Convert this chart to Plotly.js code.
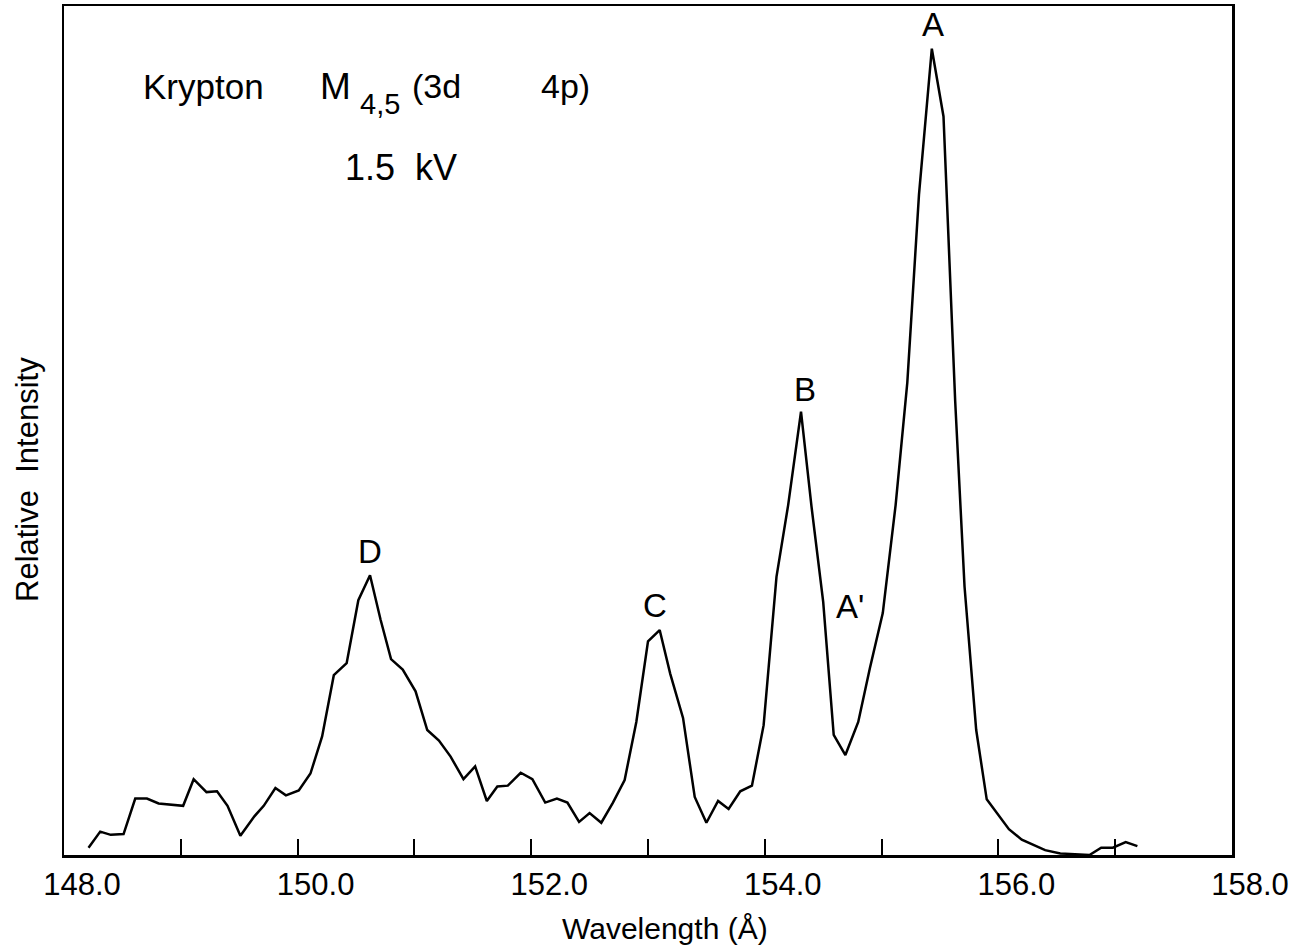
<!DOCTYPE html>
<html>
<head>
<meta charset="utf-8">
<script src="https://cdn.plot.ly/plotly-3.0.1.min.js"></script>
<style>html,body{margin:0;padding:0;background:#fff;}#chart{width:1289px;height:951px;}</style>
</head>
<body>
<div id="chart"></div>
<script>
// Wavelength (Å) of each sampled point
const wavelength = [
  148.21,148.31,148.40,148.51,148.61,148.71,148.81,148.91,149.02,149.11,
  149.22,149.31,149.40,149.51,149.63,149.71,149.81,149.90,150.01,150.11,
  150.21,150.31,150.42,150.52,150.62,150.71,150.80,150.90,151.01,151.11,
  151.21,151.31,151.42,151.52,151.62,151.71,151.80,151.91,152.01,152.12,
  152.22,152.31,152.41,152.50,152.60,152.70,152.80,152.90,153.00,153.10,
  153.19,153.30,153.40,153.50,153.60,153.69,153.79,153.89,153.99,154.10,
  154.20,154.31,154.40,154.50,154.59,154.69,154.80,154.90,155.01,155.12,
  155.22,155.32,155.43,155.53,155.63,155.71,155.81,155.90,156.00,156.09,
  156.20,156.30,156.40,156.53,156.67,156.78,156.88,156.98,157.09,157.19
];
// Relative intensity (peak A = 100)
const intensity = [
  0.9,2.9,2.5,2.6,7.0,7.0,6.4,6.3,6.1,9.4,
  7.8,7.9,6.1,2.4,4.8,6.1,8.3,7.4,8.0,10.1,
  14.7,22.3,23.8,31.6,34.7,29.2,24.3,23.0,20.3,15.5,
  14.2,12.2,9.4,11.0,6.7,8.5,8.6,10.2,9.4,6.5,
  7.0,6.5,4.1,5.2,4.0,6.5,9.3,16.5,26.5,27.9,
  22.5,17.0,7.2,4.0,6.7,5.7,7.9,8.6,16.1,34.5,
  43.4,55.0,43.2,31.4,14.9,12.4,16.5,23.2,30.0,43.4,
  58.6,81.9,100.0,91.6,56.3,33.3,15.5,6.9,5.0,3.2,
  1.9,1.3,0.6,0.2,0.1,0.0,0.9,0.9,1.6,1.1
];
// Peak labels
const peakLabels = ['D','C','B',"A'",'A'];
const peakLabelX = [150.62,153.06,154.34,154.73,155.44];
const peakLabelY = [37.7,31.0,57.7,30.8,103.0];
// Axis ticks
const tickVals = [148,149,150,151,152,153,154,155,156,157,158];
const tickText = ['148.0','','150.0','','152.0','','154.0','','156.0','','158.0'];

const FONT = 'Liberation Sans, Arial, sans-serif';

const trace = {
  x: wavelength, y: intensity, type: 'scatter', mode: 'lines',
  line: {color: '#000', width: 2.5, shape: 'linear'},
  hoverinfo: 'x+y', showlegend: false
};

const annotations = peakLabels.map((t, i) => ({
  x: peakLabelX[i], y: peakLabelY[i], xref: 'x', yref: 'y', text: t,
  showarrow: false, xanchor: 'center', yanchor: 'middle',
  font: {family: FONT, size: 33, color: '#000'}
}));

function paperText(text, px, py, size, angle, anchor) {
  return {
    text: text, xref: 'paper', yref: 'paper',
    x: (px - 64) / 1168, y: (855 - py) / 849,
    xanchor: anchor || (angle ? 'center' : 'left'), yanchor: 'middle', showarrow: false,
    textangle: angle || 0,
    font: {family: FONT, size: size, color: '#000'}
  };
}
annotations.push(paperText('Krypton', 141, 86, 35));
annotations.push(paperText('M', 318, 86, 37));
annotations.push(paperText('4,5', 358, 104, 29));
annotations.push(paperText('(3d', 410, 86, 34));
annotations.push(paperText('4p)', 539, 86, 34));
annotations.push(paperText('1.5&nbsp;&nbsp;kV', 343, 167, 36));
annotations.push(paperText('Relative&nbsp;&nbsp;Intensity', 27, 480, 31, -90));
annotations.push(paperText('Wavelength (Å)', 665, 928, 30, 0, 'center'));

const layout = {
  width: 1289, height: 951,
  margin: {l: 64, r: 57, t: 6, b: 96},
  paper_bgcolor: '#fff', plot_bgcolor: '#fff',
  xaxis: {
    range: [148, 158], tickmode: 'array', tickvals: tickVals, ticktext: tickText,
    ticks: 'inside', ticklen: 16, tickwidth: 2, tickcolor: '#000',
    ticklabelshift: 18, ticklabeloverflow: 'allow',
    showline: true, mirror: true, linecolor: '#000', linewidth: 2.5,
    showgrid: false, zeroline: false,
    tickfont: {family: FONT, size: 31, color: '#000'}
  },
  yaxis: {
    range: [0, 105.3], showticklabels: false, ticks: '',
    showline: true, mirror: true, linecolor: '#000', linewidth: 2.5,
    showgrid: false, zeroline: false
  },
  annotations: annotations
};

Plotly.newPlot('chart', [trace], layout, {staticPlot: true, displayModeBar: false});
</script>
</body>
</html>
